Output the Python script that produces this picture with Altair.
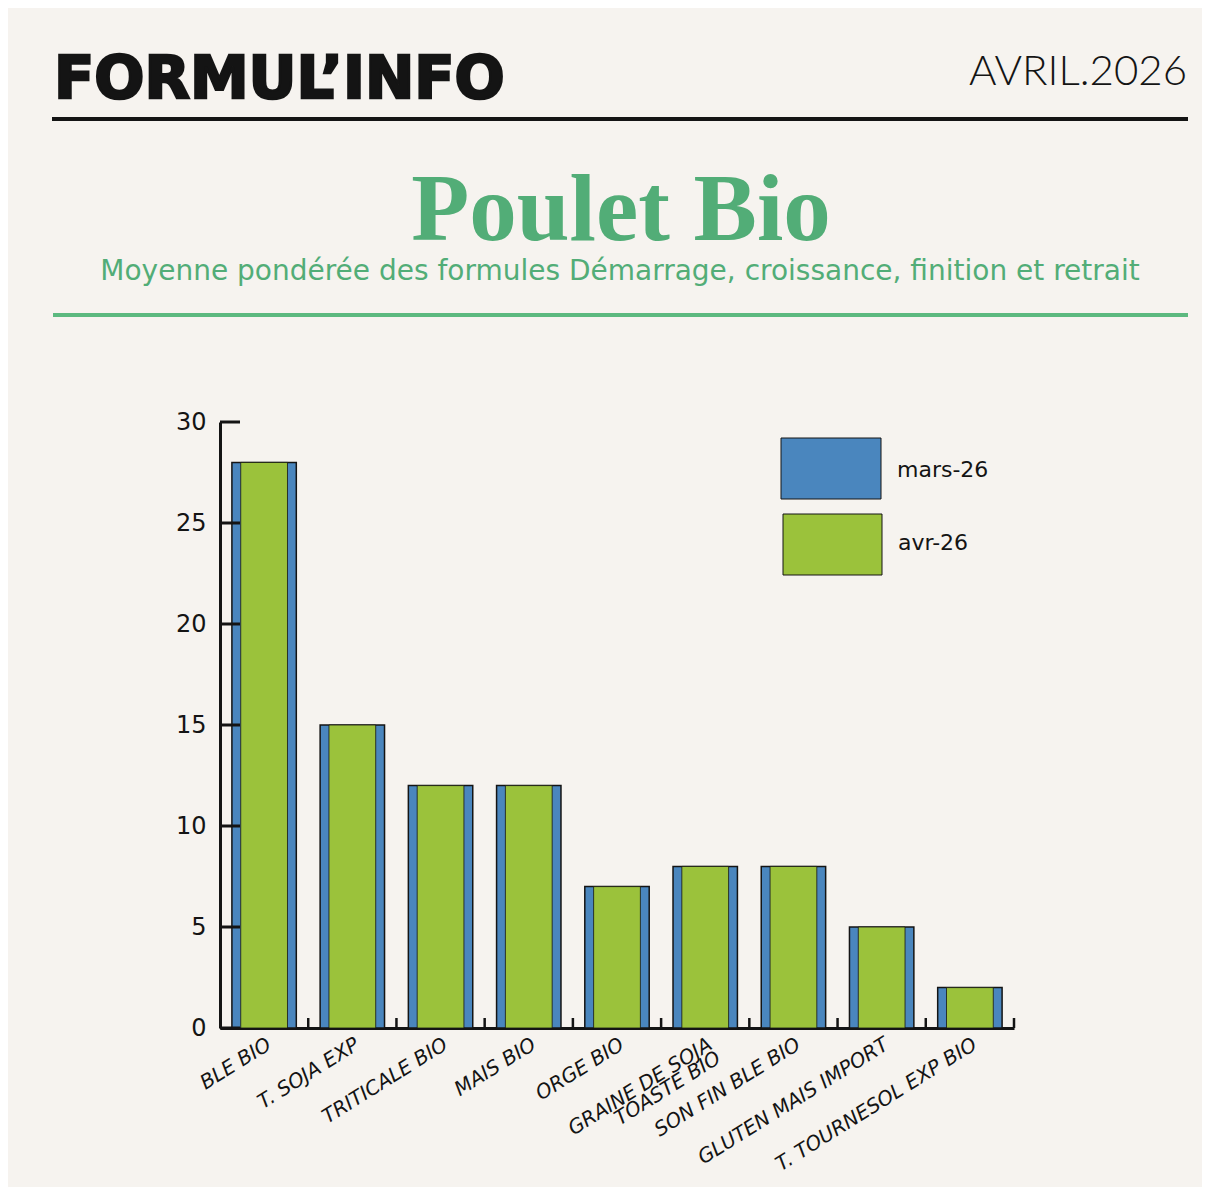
import altair as alt
import pandas as pd

categories = ["BLE BIO", "T. SOJA EXP", "TRITICALE BIO", "MAIS BIO", "ORGE BIO",
              "GRAINE DE SOJA\nTOASTE BIO", "SON FIN BLE BIO", "GLUTEN MAIS IMPORT",
              "T. TOURNESOL EXP BIO"]
mars_26 = [28, 15, 12, 12, 7, 8, 8, 5, 2]
avr_26 = [28, 15, 12, 12, 7, 8, 8, 5, 2]
series = ["mars-26", "avr-26"]
series_colors = ["#4a86be", "#9bc23b"]
y_ticks = [0, 5, 10, 15, 20, 25, 30]

header_left = "FORMUL’INFO"
header_right = "AVRIL.2026"
title_text = "Poulet Bio"
subtitle_text = "Moyenne pondérée des formules Démarrage, croissance, finition et retrait"

BG = "#f6f3ef"
INK = "#141414"
GREEN_T = "#52ad77"
FONT = "Lato"
WIDE = "DejaVu Sans"

df = pd.DataFrame({
    "cat": categories * 2,
    "value": mars_26 + avr_26,
    "series": [series[0]] * len(categories) + [series[1]] * len(categories),
})

x_axis = alt.Axis(title=None, labelAngle=328, labelAlign="right", labelBaseline="top",
                  labelFont=WIDE, labelFontStyle="italic", labelFontSize=20, labelColor=INK,
                  labelPadding=6, labelLimit=0, ticks=False, domainWidth=3, domainColor=INK,
                  labelExpr="split(datum.label, '\\n')", labelLineHeight=16)
y_axis = alt.Axis(title=None, values=y_ticks, ticks=False, grid=False, domainWidth=3,
                  domainColor=INK, labelFont=WIDE, labelFontSize=24, labelColor=INK,
                  labelPadding=14)
x_scale = alt.Scale(domain=categories, paddingInner=0, paddingOuter=0)
y_scale = alt.Scale(domain=[0, 30], nice=False)
color_scale = alt.Scale(domain=series, range=series_colors)

X = alt.X("cat:N", sort=categories, scale=x_scale, axis=x_axis)
Y = alt.Y("value:Q", scale=y_scale, axis=y_axis)

base = alt.Chart(df)
blue = base.transform_filter(alt.datum.series == series[0]).mark_bar(
    width=alt.RelativeBandSize(0.73), stroke=INK, strokeWidth=1.5
).encode(x=X, y=Y, color=alt.Color("series:N", scale=color_scale, legend=None))
green = base.transform_filter(alt.datum.series == series[1]).mark_bar(
    width=alt.RelativeBandSize(0.53), stroke=INK, strokeWidth=0.8
).encode(x=X, y=Y, color=alt.Color("series:N", scale=color_scale, legend=None))

xticks = alt.Chart(pd.DataFrame({"cat": categories})).mark_rule(
    color=INK, strokeWidth=2.5
).encode(x=alt.X("cat:N", sort=categories, scale=x_scale, axis=x_axis, bandPosition=1),
         y=alt.value(596), y2=alt.value(606))

yticks = alt.Chart(pd.DataFrame({"value": y_ticks})).mark_rule(
    color=INK, strokeWidth=3
).encode(y=Y, x=alt.value(0), x2=alt.value(20))

one = pd.DataFrame({"k": [0]})


def txt(text, x, y, **kw):
    return alt.Chart(one).mark_text(text=text, **kw).encode(x=alt.value(x), y=alt.value(y))


def hline(x1, x2, y, color, w):
    return alt.Chart(one).mark_rule(color=color, strokeWidth=w).encode(
        x=alt.value(x1), x2=alt.value(x2), y=alt.value(y))


header = [
    txt(header_left, -166, -324, align="left", baseline="alphabetic", font=WIDE,
        fontSize=59, fontWeight="bold", color=INK, stroke=INK, strokeWidth=2.5),
    txt(header_right, 967, -337, align="right", baseline="alphabetic", font=FONT,
        fontSize=42, fontWeight=300, color=INK),
    hline(-168, 968, -303, INK, 4),
    txt(title_text, 401, -182, align="center", baseline="alphabetic",
        font="Liberation Serif", fontSize=95, fontWeight="bold", color=GREEN_T),
    txt(subtitle_text, 400, -142, align="center", baseline="alphabetic", font=WIDE,
        fontSize=28, color=GREEN_T),
    hline(-167, 968, -107, "#5cb97f", 4),
]

legend_layers = []
leg_pos = [(561, 661, 16, 77, 677, 48), (563, 662, 92, 153, 678, 121)]
for s, (lx1, lx2, ly1, ly2, tx, ty) in zip(series, leg_pos):
    d = pd.DataFrame({"series": [s]})
    legend_layers.append(
        alt.Chart(d).mark_rect(stroke=INK, strokeWidth=1).encode(
            x=alt.value(lx1), x2=alt.value(lx2), y=alt.value(ly1), y2=alt.value(ly2),
            color=alt.Color("series:N", scale=color_scale, legend=None)))
    legend_layers.append(
        alt.Chart(d).mark_text(align="left", baseline="middle", font=WIDE, fontSize=22,
                               color=INK).encode(
            x=alt.value(tx), y=alt.value(ty), text="series:N"))

chart = alt.layer(blue, green, xticks, yticks, *header, *legend_layers).properties(
    width=794, height=606,
    autosize=alt.AutoSizeParams(type="none"),
    padding={"left": 212, "top": 414, "right": 188, "bottom": 159},
).configure(background=BG).configure_view(stroke=None)

chart.save("out.html", embed_options={"renderer": "svg", "actions": False})
